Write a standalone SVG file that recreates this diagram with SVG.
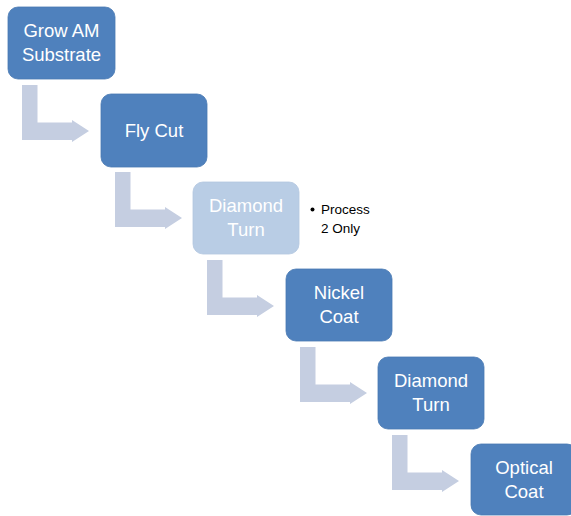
<svg xmlns="http://www.w3.org/2000/svg" width="571" height="516" viewBox="0 0 571 516">
<defs>
<style>
.box{fill:#4F81BD;stroke:#4A7AB3;stroke-width:0.8}
.boxl{fill:#B9CDE5;stroke:#B3C7E0;stroke-width:0.8}
.t{font-family:"Liberation Sans",Arial,sans-serif;font-size:18.5px;fill:#FFFFFF;text-anchor:middle}
.n{font-family:"Liberation Sans",Arial,sans-serif;font-size:13.5px;fill:#000000}
.arr{fill:#C5CEE1}
</style>
<path id="a" class="arr" d="M0,0 H15.5 V37.5 H50 V35 L67,46 L50,57 V55 H0 Z"/>
</defs>
<g id="connectors">
<use href="#a" x="22" y="85"/>
<use href="#a" x="115" y="172"/>
<use href="#a" x="207" y="260"/>
<use href="#a" x="300" y="347"/>
<use href="#a" x="392" y="435"/>
</g>
<g id="n1">
<rect class="box" x="8" y="7" width="107" height="72" rx="10"/>
<text class="t" x="61.5" y="37">Grow AM</text>
<text class="t" x="61.5" y="61">Substrate</text>
</g>
<g id="n2">
<rect class="box" x="101" y="94" width="106" height="73" rx="10"/>
<text class="t" x="154" y="137">Fly Cut</text>
</g>
<g id="n3">
<rect class="boxl" x="193" y="182" width="106" height="72" rx="10"/>
<text class="t" x="246" y="212">Diamond</text>
<text class="t" x="246" y="236">Turn</text>
</g>
<g id="note">
<circle cx="312.5" cy="209.5" r="2" fill="#000"/>
<text class="n" x="321" y="214">Process</text>
<text class="n" x="321" y="233">2 Only</text>
</g>
<g id="n4">
<rect class="box" x="286" y="269" width="106" height="72" rx="10"/>
<text class="t" x="339" y="299">Nickel</text>
<text class="t" x="339" y="323">Coat</text>
</g>
<g id="n5">
<rect class="box" x="378" y="357" width="106" height="72" rx="10"/>
<text class="t" x="431" y="387">Diamond</text>
<text class="t" x="431" y="411">Turn</text>
</g>
<g id="n6">
<rect class="box" x="471" y="444" width="106" height="71" rx="10"/>
<text class="t" x="524" y="474">Optical</text>
<text class="t" x="524" y="498">Coat</text>
</g>
</svg>
